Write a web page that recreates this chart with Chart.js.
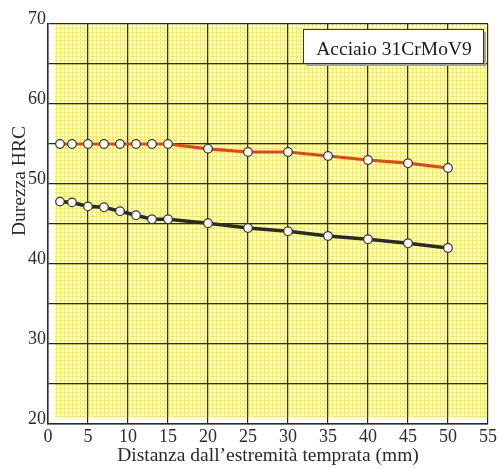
<!DOCTYPE html>
<html>
<head>
<meta charset="utf-8">
<script src="https://cdn.jsdelivr.net/npm/chart.js@4.4.1/dist/chart.umd.min.js"></script>
<style>
  html, body { margin: 0; padding: 0; background: #ffffff; }
  #wrap { width: 499px; height: 468px; }
</style>
</head>
<body>
<div id="wrap"><canvas id="c" width="499" height="468"></canvas></div>
<script>
// ---- Data ----
const distances = [1.5, 3, 5, 7, 9, 11, 13, 15, 20, 25, 30, 35, 40, 45, 50];
const hardnessMax = [55.0, 55.0, 55.0, 55.0, 55.0, 55.0, 55.0, 55.0, 54.4, 54.0, 54.0, 53.5, 53.0, 52.6, 52.0];
const hardnessMin = [47.8, 47.7, 47.2, 47.1, 46.6, 46.1, 45.6, 45.6, 45.1, 44.5, 44.1, 43.5, 43.1, 42.6, 42.0];
const xTicks = [0, 5, 10, 15, 20, 25, 30, 35, 40, 45, 50, 55];
const yTicks = [20, 30, 40, 50, 60, 70];
const steelLabel = 'Acciaio 31CrMoV9';
const xTitle = 'Distanza dall\u2019estremità temprata (mm)';
const yTitle = 'Durezza HRC';

const SERIF = '"Liberation Serif", "Times New Roman", "DejaVu Serif", serif';

const toPoints = (xs, ys) => xs.map((x, i) => ({ x: x, y: ys[i] }));

// graph-paper background with fine yellow grid
const paperPlugin = {
  id: 'paper',
  beforeDraw(chart) {
    const { ctx, chartArea: a, scales } = chart;
    const xs = scales.x, ys = scales.y;
    ctx.save();
    ctx.fillStyle = '#ffffff';
    ctx.fillRect(a.left, a.top, a.right - a.left, a.bottom - a.top);
    const x0 = xs.getPixelForValue(0.85), x1 = a.right;
    const y0 = a.top, y1 = ys.getPixelForValue(20.9);
    ctx.fillStyle = '#fffef2';
    ctx.fillRect(x0, y0, x1 - x0, y1 - y0);
    ctx.strokeStyle = '#f4ea6a';
    ctx.lineWidth = 1;
    ctx.beginPath();
    for (let v = 1; v < 55; v += 0.5) {
      const px = Math.round(xs.getPixelForValue(v)) + 0.5;
      ctx.moveTo(px, y0); ctx.lineTo(px, y1);
    }
    for (let v = 21; v < 70; v += 0.5) {
      const py = Math.round(ys.getPixelForValue(v)) + 0.5;
      ctx.moveTo(x0, py); ctx.lineTo(x1, py);
    }
    ctx.stroke();
    ctx.restore();
  },
  afterDraw(chart) {
    const { ctx } = chart;
    ctx.save();
    // label box with shadow
    const bx = 303, by = 29, bw = 180, bh = 34;
    ctx.fillStyle = '#a0a0a0';
    ctx.fillRect(bx + 3, by + 3, bw, bh);
    ctx.fillStyle = '#ffffff';
    ctx.fillRect(bx, by, bw, bh);
    ctx.strokeStyle = '#333333';
    ctx.lineWidth = 1;
    ctx.strokeRect(bx + 0.5, by + 0.5, bw, bh);
    ctx.fillStyle = '#1a1a1a';
    ctx.font = '19.5px ' + SERIF;
    ctx.textAlign = 'center';
    ctx.textBaseline = 'alphabetic';
    ctx.fillText(steelLabel, bx + bw / 2 + 1, by + 26);
    // y axis title
    ctx.translate(25, 181);
    ctx.rotate(-Math.PI / 2);
    ctx.fillStyle = '#2a2a2a';
    ctx.font = '19.5px ' + SERIF;
    ctx.fillText(yTitle, 0, 0);
    ctx.restore();
  }
};

new Chart(document.getElementById('c'), {
  type: 'line',
  data: {
    datasets: [
      {
        label: 'max',
        data: toPoints(distances, hardnessMax),
        borderColor: '#e2441c',
        borderWidth: 3.2,
        pointRadius: 4.3,
        pointBackgroundColor: '#ffffff',
        pointBorderColor: '#333333',
        pointBorderWidth: 1.2,
        tension: 0
      },
      {
        label: 'min',
        data: toPoints(distances, hardnessMin),
        borderColor: '#2a2a2a',
        borderWidth: 3.6,
        pointRadius: 4.3,
        pointBackgroundColor: '#ffffff',
        pointBorderColor: '#333333',
        pointBorderWidth: 1.2,
        tension: 0
      }
    ]
  },
  options: {
    responsive: false,
    animation: false,
    layout: { padding: { top: 24, right: 10, left: 0, bottom: 0 } },
    plugins: {
      legend: { display: false },
      tooltip: { enabled: false }
    },
    scales: {
      x: {
        type: 'linear',
        min: 0, max: 55,
        afterFit(s) { s.height = 44; },
        afterBuildTicks(s) { s.ticks = xTicks.map(v => ({ value: v })); },
        ticks: {
          color: '#2a2a2a',
          font: { family: SERIF, size: 18 },
          padding: 2,
          maxRotation: 0,
          autoSkip: false
        },
        grid: { color: '#2a2a2a', lineWidth: 1.2, drawTicks: false },
        border: { color: '#2a2a2a', width: 1.5 },
        title: {
          display: true,
          text: xTitle,
          color: '#2a2a2a',
          font: { family: SERIF, size: 19.5 },
          padding: 0
        }
      },
      y: {
        type: 'linear',
        min: 20, max: 70,
        afterFit(s) { s.width = 48; },
        ticks: {
          stepSize: 5,
          color: '#2a2a2a',
          font: { family: SERIF, size: 18 },
          padding: 2,
          labelOffset: -5,
          autoSkip: false,
          callback: v => (yTicks.includes(v) ? String(v) : '')
        },
        grid: { color: '#2a2a2a', lineWidth: 1.3, drawTicks: false },
        border: { color: '#2a2a2a', width: 1.5 }
      }
    }
  },
  plugins: [paperPlugin]
});
</script>
</body>
</html>
